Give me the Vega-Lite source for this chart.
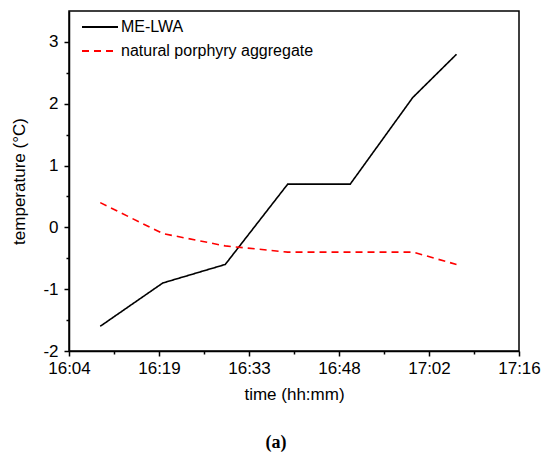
{
  "$schema": "https://vega.github.io/schema/vega-lite/v6.json",
  "width": 450,
  "height": 340,
  "autosize": {"type": "none"},
  "padding": {"left": 69, "top": 11, "right": 31, "bottom": 110},
  "background": "white",
  "title": {
    "text": "(a)",
    "orient": "bottom",
    "anchor": "middle",
    "font": "Liberation Serif",
    "fontSize": 18,
    "fontWeight": "bold",
    "color": "black",
    "offset": 32,
    "dx": -18
  },
  "data": {
    "values": [
      {"minutes": 5, "series": "ME-LWA", "temperature": -1.6},
      {"minutes": 15, "series": "ME-LWA", "temperature": -0.9},
      {"minutes": 25, "series": "ME-LWA", "temperature": -0.6},
      {"minutes": 35, "series": "ME-LWA", "temperature": 0.7},
      {"minutes": 45, "series": "ME-LWA", "temperature": 0.7},
      {"minutes": 55, "series": "ME-LWA", "temperature": 2.1},
      {"minutes": 62, "series": "ME-LWA", "temperature": 2.8},
      {"minutes": 5, "series": "natural porphyry aggregate", "temperature": 0.4},
      {"minutes": 15, "series": "natural porphyry aggregate", "temperature": -0.1},
      {"minutes": 25, "series": "natural porphyry aggregate", "temperature": -0.3},
      {"minutes": 35, "series": "natural porphyry aggregate", "temperature": -0.4},
      {"minutes": 45, "series": "natural porphyry aggregate", "temperature": -0.4},
      {"minutes": 55, "series": "natural porphyry aggregate", "temperature": -0.4},
      {"minutes": 62, "series": "natural porphyry aggregate", "temperature": -0.6}
    ]
  },
  "mark": {"type": "line", "strokeWidth": 1.6},
  "encoding": {
    "x": {
      "field": "minutes",
      "type": "quantitative",
      "title": "time (hh:mm)",
      "scale": {"domain": [0, 72], "nice": false, "zero": false},
      "axis": {
        "values": [0, 7.2, 14.4, 21.6, 28.8, 36, 43.2, 50.4, 57.6, 64.8, 72],
        "labelExpr": "round(datum.value / 7.2) % 2 === 0 ? ['16:04','16:19','16:33','16:48','17:02','17:16'][round(datum.value / 14.4)] : ''",
        "tickSize": {"condition": {"test": "round(datum.value / 7.2) % 2 === 0", "value": 5}, "value": 3},
        "labelPadding": 4,
        "titlePadding": 10,
        "labelFlush": false
      }
    },
    "y": {
      "field": "temperature",
      "type": "quantitative",
      "title": "temperature (°C)",
      "scale": {"domain": [-2, 3.5], "nice": false, "zero": false},
      "axis": {
        "values": [-2, -1.5, -1, -0.5, 0, 0.5, 1, 1.5, 2, 2.5, 3],
        "labelExpr": "datum.value % 1 === 0 ? '' + datum.value : ''",
        "tickSize": {"condition": {"test": "datum.value % 1 === 0", "value": 5}, "value": 3},
        "labelPadding": 6,
        "titlePadding": 14
      }
    },
    "color": {
      "field": "series",
      "type": "nominal",
      "scale": {"domain": ["ME-LWA", "natural porphyry aggregate"], "range": ["black", "#ff0000"]},
      "legend": {
        "orient": "none",
        "legendX": 12,
        "legendY": 8,
        "title": null,
        "symbolType": "stroke",
        "symbolSize": 1296,
        "symbolStrokeWidth": 2,
        "clipHeight": 16,
        "labelFontSize": 16,
        "labelFont": "Liberation Sans",
        "labelColor": "black",
        "labelLimit": 0,
        "labelOffset": 2,
        "rowPadding": 8,
        "padding": 0
      }
    },
    "strokeDash": {
      "field": "series",
      "type": "nominal",
      "scale": {"domain": ["ME-LWA", "natural porphyry aggregate"], "range": [[1, 0], [7, 5]]},
      "legend": null
    }
  },
  "config": {
    "view": {"stroke": "black", "strokeWidth": 1.5},
    "axis": {
      "grid": false,
      "domainColor": "black",
      "domainWidth": 1.5,
      "tickColor": "black",
      "tickWidth": 1.5,
      "labelFont": "Liberation Sans",
      "labelFontSize": 17,
      "labelColor": "black",
      "titleFont": "Liberation Sans",
      "titleFontSize": 17,
      "titleFontWeight": "normal",
      "titleColor": "black"
    }
  }
}
